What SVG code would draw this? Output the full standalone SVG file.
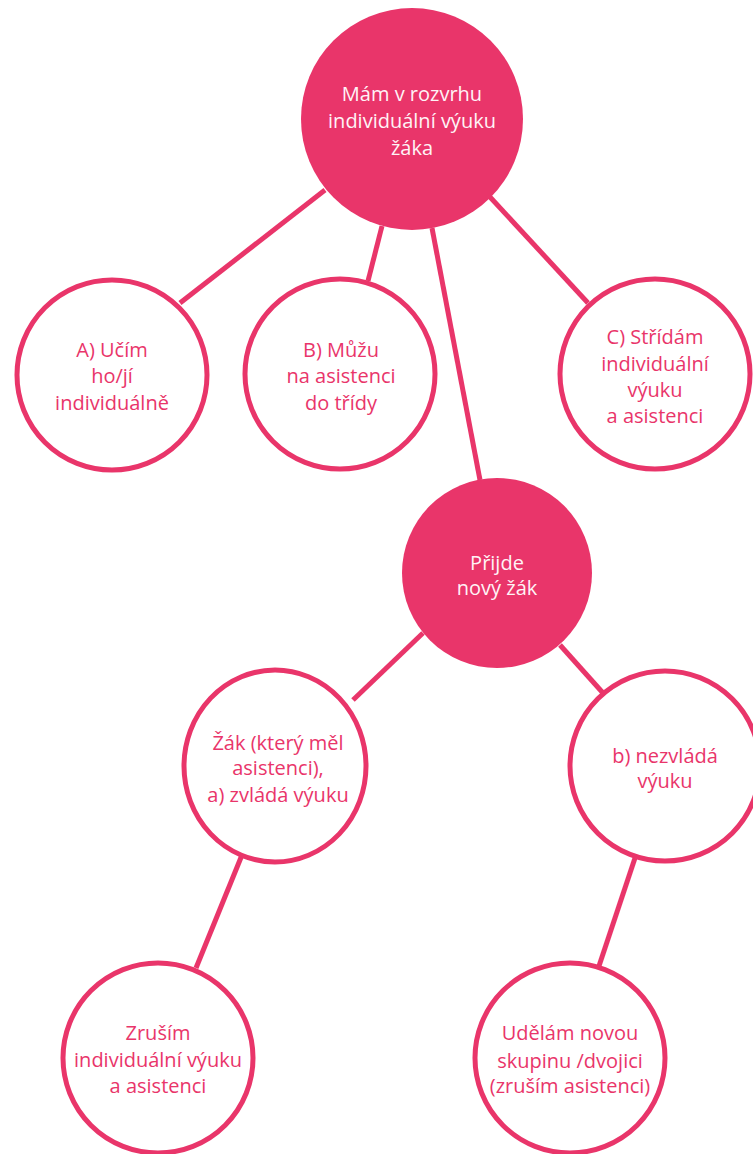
<svg xmlns="http://www.w3.org/2000/svg" width="753" height="1154" viewBox="0 0 753 1154">
<style>
.edge{stroke:#E9356A;stroke-width:5;fill:none;stroke-linecap:butt}
.solid{fill:#E9356A;stroke:none}
.ring{fill:#fff;stroke:#E9356A;stroke-width:5}
text{font-family:"Open Sans","Liberation Sans",sans-serif;font-size:20px;text-anchor:middle}
.w{fill:#FFF3F6}
.p{fill:#E9356A}
</style>
<rect width="753" height="1154" fill="#fff"/>
<g id="connectors">
<line class="edge" x1="325" y1="190" x2="180" y2="303"/>
<line class="edge" x1="382" y1="226" x2="368" y2="281"/>
<line class="edge" x1="432" y1="228" x2="480" y2="480"/>
<line class="edge" x1="490" y1="197" x2="588" y2="303"/>
<line class="edge" x1="423" y1="633" x2="353" y2="700"/>
<line class="edge" x1="560" y1="645" x2="603" y2="693"/>
<line class="edge" x1="242" y1="855" x2="196" y2="968"/>
<line class="edge" x1="635" y1="858" x2="599" y2="966"/>
</g>
<g id="root">
<circle class="solid" cx="412" cy="119" r="111"/>
<text class="w" x="412" y="101">Mám v rozvrhu</text>
<text class="w" x="412" y="128">individuální výuku</text>
<text class="w" x="412" y="155">žáka</text>
</g>
<g id="nodeA">
<circle class="ring" cx="112" cy="375" r="95"/>
<text class="p" x="112" y="357">A) Učím</text>
<text class="p" x="112" y="383">ho/jí</text>
<text class="p" x="112" y="410">individuálně</text>
</g>
<g id="nodeB">
<circle class="ring" cx="340" cy="374" r="95"/>
<text class="p" x="341" y="357">B) Můžu</text>
<text class="p" x="341" y="383">na asistenci</text>
<text class="p" x="341" y="410">do třídy</text>
</g>
<g id="nodeC">
<circle class="ring" cx="655" cy="374" r="95"/>
<text class="p" x="655" y="344">C) Střídám</text>
<text class="p" x="655" y="371">individuální</text>
<text class="p" x="655" y="397">výuku</text>
<text class="p" x="655" y="423">a asistenci</text>
</g>
<g id="newStudent">
<circle class="solid" cx="497" cy="573" r="95"/>
<text class="w" x="497" y="570">Přijde</text>
<text class="w" x="497" y="595">nový žák</text>
</g>
<g id="nodeA2">
<ellipse class="ring" cx="275" cy="766" rx="91" ry="96"/>
<text class="p" x="278" y="750">Žák (který měl</text>
<text class="p" x="278" y="775">asistenci),</text>
<text class="p" x="278" y="802">a) zvládá výuku</text>
</g>
<g id="nodeB2">
<circle class="ring" cx="665" cy="766" r="95"/>
<text class="p" x="665" y="763">b) nezvládá</text>
<text class="p" x="665" y="788">výuku</text>
</g>
<g id="cancel">
<circle class="ring" cx="158" cy="1058" r="95"/>
<text class="p" x="158" y="1040">Zruším</text>
<text class="p" x="158" y="1067">individuální výuku</text>
<text class="p" x="158" y="1093">a asistenci</text>
</g>
<g id="newGroup">
<circle class="ring" cx="570" cy="1058" r="95"/>
<text class="p" x="570" y="1040">Udělám novou</text>
<text class="p" x="570" y="1068">skupinu /dvojici</text>
<text class="p" x="570" y="1093">(zruším asistenci)</text>
</g>
</svg>
